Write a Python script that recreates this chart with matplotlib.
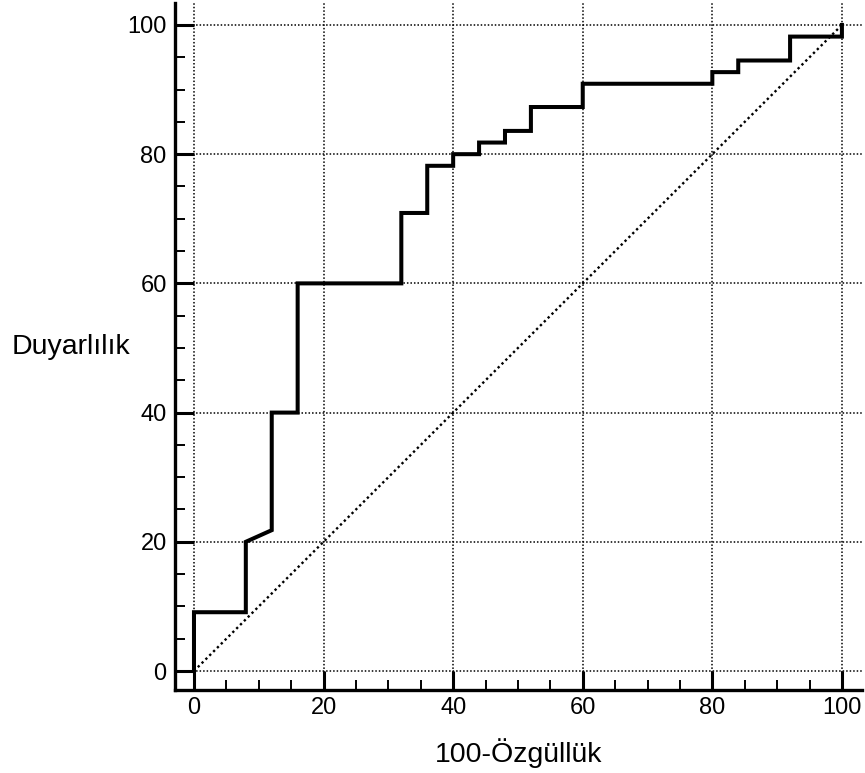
import matplotlib
matplotlib.use("Agg")
import matplotlib.pyplot as plt
from matplotlib.ticker import MultipleLocator

plt.rcParams['font.family'] = ['Liberation Sans', 'DejaVu Sans']

# ROC curve corners (100-specificity, sensitivity)
fpr = [0, 0, 8, 8, 12, 12, 16, 16, 32, 32, 36, 36, 40, 40, 44, 44,
       48, 48, 52, 52, 60, 60, 80, 80, 84, 84, 92, 92, 100, 100]
tpr = [0, 9.1, 9.1, 20, 21.8, 40, 40, 60, 60, 70.9, 70.9, 78.2, 78.2, 80, 80, 81.8,
       81.8, 83.6, 83.6, 87.3, 87.3, 90.9, 90.9, 92.7, 92.7, 94.5, 94.5, 98.2, 98.2, 100]
ref_line = [0, 100]
ticks = [0, 20, 40, 60, 80, 100]

fig = plt.figure(figsize=(8.65, 7.73), dpi=100)
ax = fig.add_axes([175 / 865, 83 / 773, 687 / 865, 687 / 773])

ax.plot(ref_line, ref_line, color='black', lw=1.7, linestyle=(0, (1, 1.3)))
ax.plot(fpr, tpr, color='black', lw=2.9, solid_joinstyle='miter')

ax.set_xlim(-2.93, 103.1)
ax.set_ylim(-2.94, 103.4)
ax.set_xticks(ticks)
ax.set_yticks(ticks)
ax.xaxis.set_minor_locator(MultipleLocator(5))
ax.yaxis.set_minor_locator(MultipleLocator(5))

ax.grid(True, which='major', color='black', lw=1.1, linestyle=(0, (1, 1.3)))
ax.set_axisbelow(True)

for s in ['top', 'right']:
    ax.spines[s].set_visible(False)
for s in ['left', 'bottom']:
    ax.spines[s].set_linewidth(2.4)

ax.tick_params(which='major', direction='in', length=13.7, width=2.2, labelsize=17)
ax.tick_params(axis='y', which='major', pad=6)
ax.tick_params(axis='x', which='major', pad=5)
ax.tick_params(which='minor', direction='in', length=7.2, width=1.4)

ax.set_xlabel('100-Özgüllük', fontsize=20.5, va='center')
ax.xaxis.set_label_coords(0.5, -0.092)
ax.set_ylabel('Duyarlılık', fontsize=20.5, rotation=0, ha='center', va='center')
ax.yaxis.set_label_coords(-0.151, 0.5)

fig.savefig('out.png', dpi=100)
